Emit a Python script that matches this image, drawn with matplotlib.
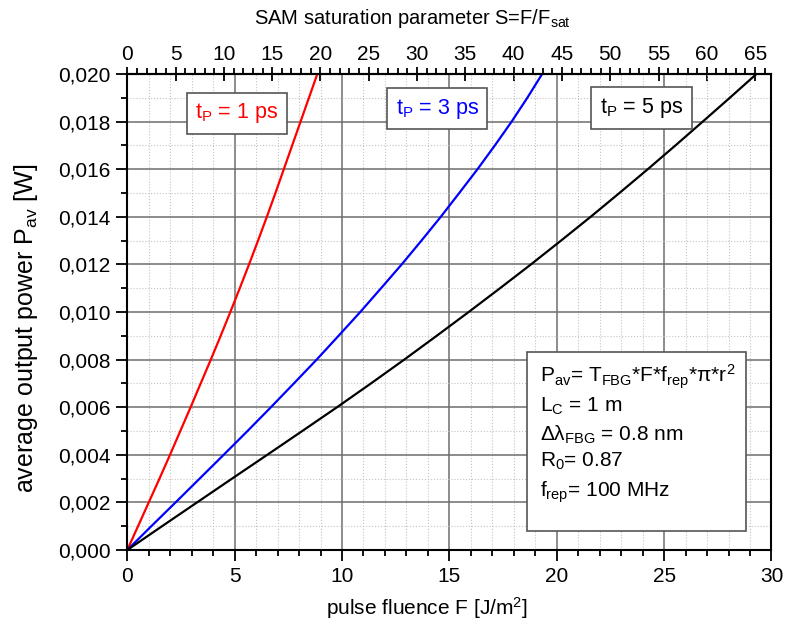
import matplotlib
matplotlib.use('Agg')
import matplotlib.pyplot as plt
from matplotlib.ticker import MultipleLocator, FixedLocator, FuncFormatter
from matplotlib.patches import Rectangle

plt.rcParams['font.family'] = ['Liberation Sans', 'DejaVu Sans']
plt.rcParams['mathtext.fontset'] = 'custom'
plt.rcParams['mathtext.rm'] = 'Liberation Sans'
plt.rcParams['mathtext.it'] = 'Liberation Sans'

# potencia media (W)
potencia = [0.000, 0.001, 0.002, 0.003, 0.004, 0.005, 0.006, 0.007, 0.008, 0.009, 0.010,
            0.011, 0.012, 0.013, 0.014, 0.015, 0.016, 0.017, 0.018, 0.019, 0.020]
# fluencia (J/m^2) para cada valor de potencia
fluencia_1ps = [0.0, 0.50, 1.00, 1.50, 1.99, 2.47, 2.95, 3.42, 3.89, 4.35, 4.80,
                5.24, 5.67, 6.09, 6.50, 6.90, 7.29, 7.68, 8.07, 8.46, 8.85]
fluencia_3ps = [0.0, 1.12, 2.25, 3.37, 4.49, 5.60, 6.69, 7.76, 8.82, 9.84, 10.85,
                11.82, 12.78, 13.70, 14.60, 15.46, 16.31, 17.12, 17.90, 18.63, 19.32]
fluencia_5ps = [0.0, 1.62, 3.25, 4.88, 6.52, 8.15, 9.77, 11.35, 12.90, 14.41, 15.90,
                17.36, 18.80, 20.20, 21.58, 22.92, 24.24, 25.53, 26.80, 28.06, 29.30]
# relacion S = F/F_sat (eje superior)
escala_S = 65 / 29.24
ticks_S = [0, 5, 10, 15, 20, 25, 30, 35, 40, 45, 50, 55, 60, 65]

fig = plt.figure(figsize=(7.94, 6.24), dpi=100)
ax = fig.add_axes([0.1603, 0.1186, 0.8113, 0.7628])

ax.plot(fluencia_1ps, potencia, color='#ff0000', lw=1.6)
ax.plot(fluencia_3ps, potencia, color='#0000ff', lw=1.6)
ax.plot(fluencia_5ps, potencia, color='black', lw=1.6)

ax.set_xlim(0, 30)
ax.set_ylim(0, 0.020)
ax.xaxis.set_major_locator(MultipleLocator(5))
ax.xaxis.set_minor_locator(MultipleLocator(1))
ax.yaxis.set_major_locator(MultipleLocator(0.002))
ax.yaxis.set_minor_locator(MultipleLocator(0.001))
ax.yaxis.set_major_formatter(FuncFormatter(lambda v, p: f'{v:.3f}'.replace('.', ',')))

ax.grid(True, which='major', color='#6e6e6e', lw=1.1, ls='-')
ax.grid(True, which='minor', color='#c4c4c4', lw=0.8, ls=':')
ax.set_axisbelow(True)

for s in ax.spines.values():
    s.set_linewidth(1.5)
ax.tick_params(which='both', direction='out', width=1.3, labelsize=15, right=False, top=False)
ax.tick_params(which='major', length=8, pad=4)
ax.tick_params(which='minor', length=4)

ax.set_xlabel('pulse fluence F [J/m$^2$]', fontsize=15)
ax.xaxis.set_label_coords(0.465, -0.095)
ax.set_ylabel('average output power P$_\\mathregular{av}$ [W]', fontsize=18)
ax.yaxis.set_label_coords(-0.136, 0.466)

sec = ax.secondary_xaxis('top', functions=(lambda f: f * escala_S, lambda s: s / escala_S))
sec.xaxis.set_major_locator(FixedLocator(ticks_S))
sec.xaxis.set_minor_locator(MultipleLocator(1))
sec.spines['top'].set_linewidth(1.5)
sec.tick_params(which='major', direction='inout', length=10, width=1.3, labelsize=15, pad=2)
sec.tick_params(which='minor', direction='out', length=4, width=1.3)
# titulo del eje superior
fig.text(0.520, 0.961, 'SAM saturation parameter S=F/F$_\\mathregular{sat}$', fontsize=14.5,
         ha='center', va='baseline')

caja = dict(boxstyle='square,pad=0.4', fc='white', ec='#555555', lw=1.2)
ax.text(5.11, 0.01835, 't$_\\mathregular{P}$ = 1 ps', color='#ff0000', fontsize=15.5, ha='center', va='center', bbox=caja)
ax.text(14.43, 0.01855, 't$_\\mathregular{P}$ = 3 ps', color='#0000ff', fontsize=15.5, ha='center', va='center', bbox=caja)
ax.text(23.95, 0.01857, 't$_\\mathregular{P}$ = 5 ps', color='black', fontsize=15.5, ha='center', va='center', bbox=caja)

# caja de parametros
ax.add_patch(Rectangle((18.63, 0.0008), 10.2, 0.00752, fc='white', ec='#555555', lw=1.2, zorder=3))
lineas = ['P$_\\mathregular{av}$= T$_\\mathregular{FBG}$*F*f$_\\mathregular{rep}$*\u03c0*r$^2$',
          'L$_\\mathregular{C}$ = 1 m',
          '\u0394\u03bb$_\\mathregular{FBG}$ = 0.8 nm',
          'R$_\\mathregular{0}$= 0.87',
          'f$_\\mathregular{rep}$= 100 MHz']
alturas = [0.00705, 0.00580, 0.00458, 0.00350, 0.00222]
for linea, h in zip(lineas, alturas):
    ax.text(19.2, h, linea, fontsize=15, ha='left', va='baseline', zorder=4)

fig.savefig('out.png', dpi=100)
